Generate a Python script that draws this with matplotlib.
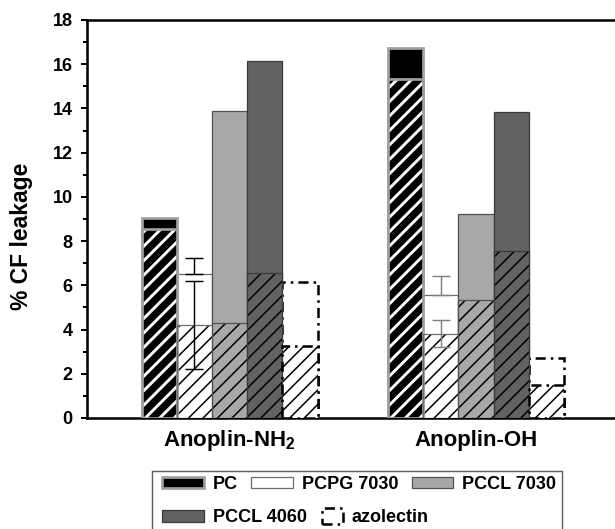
import matplotlib
matplotlib.use('Agg')
import matplotlib.pyplot as plt
from matplotlib.patches import Patch, Rectangle
from matplotlib.legend_handler import HandlerPatch
from matplotlib.ticker import MultipleLocator

# data
groups = ['Anoplin-NH$_2$', 'Anoplin-OH']
lipids = ['PC', 'PCPG 7030', 'PCCL 7030', 'PCCL 4060', 'azolectin']

pc_total = [9.05, 16.72]
pc_hatched = [8.55, 15.33]
pcpg_total = [6.52, 5.57]
pcpg_hatched = [4.2, 3.82]
pccl7030_total = [13.9, 9.22]
pccl7030_hatched = [4.3, 5.34]
pccl4060_total = [16.15, 13.84]
pccl4060_hatched = [6.57, 7.57]
azo_total = [6.15, 2.71]
azo_hatched = [3.25, 1.5]

pcpg_total_err = [0.72, 0.85]
pcpg_hatched_err = [2.0, 0.6]

totals = [pc_total, pcpg_total, pccl7030_total, pccl4060_total, azo_total]
hatched = [pc_hatched, pcpg_hatched, pccl7030_hatched, pccl4060_hatched, azo_hatched]

# styles
faces = ['black', 'white', '#a8a8a8', '#626262', 'white']
edges = ['#a0a0a0', '#6e6e6e', '#505050', '#3a3a3a', 'black']
hatch_cols = ['white', 'black', 'black', 'black', 'black']
edge_lw = [1.5, 0.7, 0.7, 0.7, 1.4]
err_cols = ['black', '#808080']
dashdot = (0, (4, 2, 1, 2))

plt.rcParams['font.family'] = 'Liberation Sans'
plt.rcParams['font.weight'] = 'bold'
plt.rcParams['axes.labelweight'] = 'bold'
plt.rcParams['mathtext.fontset'] = 'custom'
plt.rcParams['mathtext.rm'] = 'Liberation Sans:bold'
plt.rcParams['mathtext.bf'] = 'Liberation Sans:bold'
plt.rcParams['mathtext.default'] = 'bf'
plt.rcParams['hatch.linewidth'] = 0.85

dpi = 130
fig = plt.figure(figsize=(615 / dpi, 529 / dpi), dpi=dpi)
ax = fig.add_axes([87 / 615, 111 / 529, 553 / 615, 398 / 529])

group_pos = [0, 7]
offsets = [-2, -1, 0, 1, 2]

for i in range(len(lipids)):
    x = [g + offsets[i] for g in group_pos]
    ls = dashdot if lipids[i] == 'azolectin' else 'solid'
    ax.bar(x, totals[i], width=1, color=faces[i], edgecolor=edges[i],
           linewidth=edge_lw[i], linestyle=ls, zorder=2)
    hb = ax.bar(x, hatched[i], width=1, color=faces[i], edgecolor=hatch_cols[i],
                linewidth=0, hatch='///', zorder=3)
    if lipids[i] == 'PC':
        for p in hb:
            if hasattr(p, 'set_hatch_linewidth'):
                p.set_hatch_linewidth(1.6)
    ax.bar(x, hatched[i], width=1, fill=False, edgecolor=edges[i],
           linewidth=edge_lw[i], linestyle=ls, zorder=3.5)

# error bars on PCPG 7030
for j, g in enumerate(group_pos):
    xp = g + offsets[1]
    ax.errorbar([xp], [pcpg_total[j]], yerr=[[0], [pcpg_total_err[j]]], fmt='none',
                ecolor=err_cols[j], elinewidth=0.8, capsize=5, capthick=0.8, zorder=2.5)
    ax.errorbar([xp], [pcpg_hatched[j]], yerr=[pcpg_hatched_err[j]], fmt='none',
                ecolor=err_cols[j], elinewidth=0.8, capsize=5, capthick=0.8, zorder=4)

ax.set_xlim(-4.05, 11.66)
ax.set_ylim(0, 18)
ax.yaxis.set_major_locator(MultipleLocator(2))
ax.yaxis.set_minor_locator(MultipleLocator(1))
ax.tick_params(axis='y', which='major', direction='out', length=3.5, width=1.1,
               pad=4.4, labelsize=10)
ax.tick_params(axis='y', which='minor', direction='out', length=2, width=1.1)
ax.set_xticks(group_pos)
ax.set_xticklabels(groups, fontsize=12.3, va='baseline')
ax.tick_params(axis='x', length=0, pad=15.5)
for s in ['left', 'bottom', 'top']:
    ax.spines[s].set_linewidth(1.4)
ax.spines['right'].set_visible(False)

ax.set_ylabel('% CF leakage', fontsize=12.7, fontweight='bold')
ax.yaxis.set_label_coords(-0.098, 0.457)

# legend: two rows plus one frame
handles = []
for i in range(len(lipids)):
    ls = dashdot if lipids[i] == 'azolectin' else 'solid'
    handles.append(Patch(facecolor=faces[i], edgecolor=edges[i],
                         linewidth=edge_lw[i], linestyle=ls))


def narrow_box(legend, orig_handle, xdescent, ydescent, width, height, fontsize):
    w = width * 0.5
    return Rectangle((-xdescent + width - w, -ydescent - 1), w, height + 2)


lkw = dict(loc='center left', frameon=False, fontsize=10, handlelength=2.3,
           handleheight=0.62, handletextpad=0.5, borderpad=0, borderaxespad=0)
fig.legend(handles[:3], lipids[:3], ncol=3, columnspacing=0.75,
           bbox_to_anchor=(162 / 615, 1 - 484.5 / 529), **lkw)
fig.legend(handles[3:], lipids[3:], ncol=2, columnspacing=-0.3,
           handler_map={handles[4]: HandlerPatch(patch_func=narrow_box)},
           bbox_to_anchor=(162 / 615, 1 - 518 / 529), **lkw)
fig.patches.append(Rectangle((152 / 615, -0.05), 410 / 615, 58 / 529 + 0.05,
                             transform=fig.transFigure, fill=False,
                             edgecolor='#606060', linewidth=0.8))

fig.savefig('out.png', dpi=dpi)
